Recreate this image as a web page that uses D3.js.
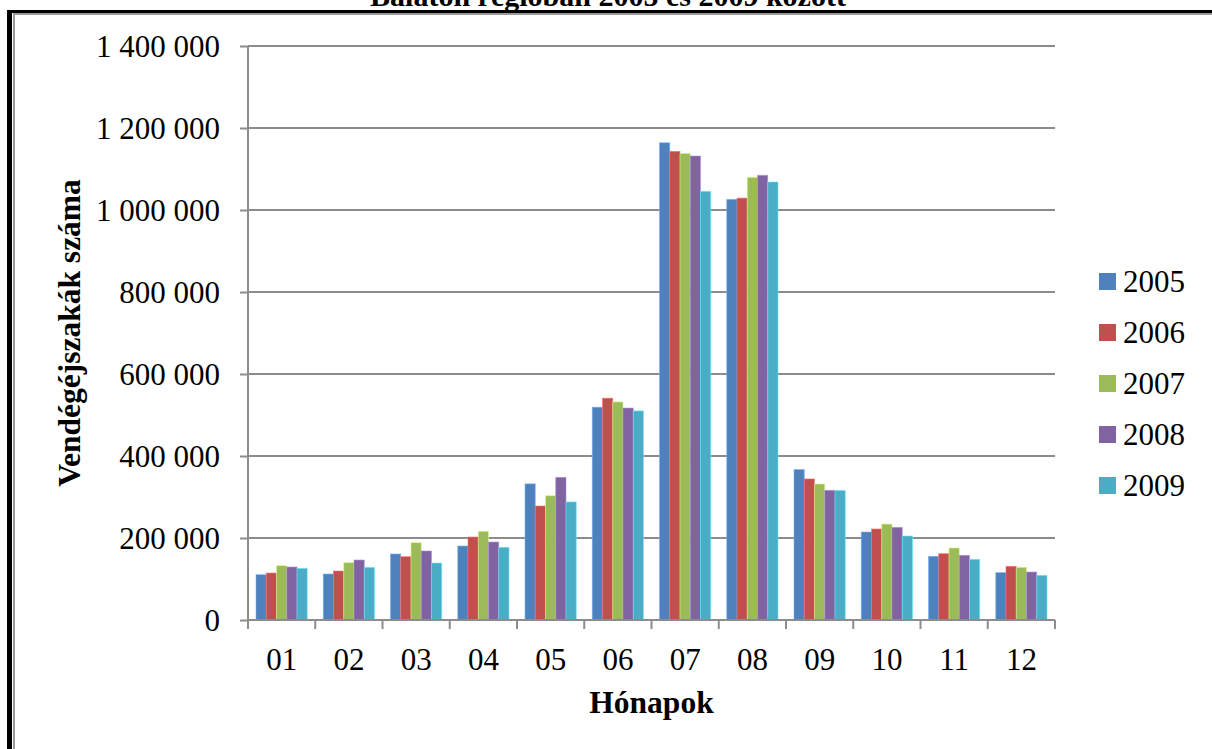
<!DOCTYPE html>
<html lang="hu">
<head>
<meta charset="utf-8">
<script src="https://cdn.jsdelivr.net/npm/d3@7"></script>
<style>
  html, body { margin: 0; padding: 0; background: #fff; }
  svg { display: block; }
  text { font-family: "Liberation Serif", "Times New Roman", serif; fill: #000; }
</style>
</head>
<body>
<svg id="chart" width="1212" height="749"></svg>
<script>
// Vendégéjszakák havonta, évenként
const months = ["01", "02", "03", "04", "05", "06", "07", "08", "09", "10", "11", "12"];
const years = ["2005", "2006", "2007", "2008", "2009"];
const v2005 = [110500, 112200, 161000, 180500, 332000, 519000, 1164000, 1026000, 367000, 214600, 155300, 115500];
const v2006 = [114600, 119500, 154400, 202400, 278000, 541000, 1143000, 1029000, 344000, 222000, 161800, 130900];
const v2007 = [132500, 139800, 188600, 216300, 303000, 532000, 1138000, 1079700, 331700, 234000, 175600, 128500];
const v2008 = [129300, 146300, 168300, 190200, 348000, 517000, 1131700, 1084600, 316300, 226000, 157700, 117000];
const v2009 = [126000, 128500, 139000, 177300, 288000, 510000, 1045600, 1068300, 316000, 204900, 148000, 109000];
const yTicks = [0, 200000, 400000, 600000, 800000, 1000000, 1200000, 1400000];
const colors = ["#4F81BD", "#C0504D", "#9BBB59", "#8064A2", "#4BACC6"];
const titleText = "Balaton régióban 2005 és 2009 között";
const yTitle = "Vendégéjszakák száma";
const xTitle = "Hónapok";

const seriesValues = [v2005, v2006, v2007, v2008, v2009];
const series = years.map((y, i) => ({ year: y, color: colors[i], values: seriesValues[i] }));

const svg = d3.select("#chart");
const plot = { left: 248, right: 1055, top: 46, bottom: 620 };

// Hungarian number format: space as thousands separator
const huLocale = d3.formatLocale({ decimal: ",", thousands: " ", grouping: [3], currency: ["", " Ft"] });
const fmt = huLocale.format(",d");

// Frame (double border: black outer, grey inner)
const frame = svg.append("g");
frame.append("rect").attr("x", 7).attr("y", 10).attr("width", 5).attr("height", 749).attr("fill", "#000");
frame.append("rect").attr("x", 7).attr("y", 10).attr("width", 1212).attr("height", 3).attr("fill", "#000");
frame.append("rect").attr("x", 13).attr("y", 13).attr("width", 2).attr("height", 749).attr("fill", "#9a9a9a");
frame.append("rect").attr("x", 13).attr("y", 13).attr("width", 1212).attr("height", 2).attr("fill", "#9a9a9a");

// Title (partly above the top edge)
svg.append("text")
  .attr("x", 608).attr("y", 6)
  .attr("text-anchor", "middle")
  .style("font-size", "30px").style("font-weight", "bold")
  .text(titleText);

// Scales
const x = d3.scaleBand().domain(months).range([plot.left, plot.right]).paddingInner(0).paddingOuter(0);
const xInner = d3.scaleBand().domain(years).range([8, x.bandwidth() - 8]).padding(0);
const y = d3.scaleLinear().domain([0, 1400000]).range([plot.bottom, plot.top]);

const gridColor = "#8c8c8c";

// Horizontal gridlines
svg.append("g")
  .selectAll("line")
  .data(yTicks.filter(d => d > 0))
  .join("line")
  .attr("x1", plot.left).attr("x2", plot.right)
  .attr("y1", d => y(d)).attr("y2", d => y(d))
  .attr("stroke", gridColor).attr("stroke-width", 2);

// Bars
const groups = svg.append("g")
  .selectAll("g")
  .data(series)
  .join("g")
  .attr("fill", d => d.color);

groups.selectAll("rect")
  .data(s => s.values.map((v, i) => ({ month: months[i], value: v, year: s.year, color: s.color })))
  .join("rect")
  .attr("x", d => x(d.month) + xInner(d.year))
  .attr("y", d => y(d.value))
  .attr("width", xInner.bandwidth())
  .attr("height", d => y(0) - y(d.value))
  .attr("stroke", d => d3.color(d.color).brighter(0.9))
  .attr("stroke-width", 0.8)
  .attr("stroke-opacity", 0.7);

// Y axis
const yAxis = svg.append("g")
  .attr("transform", `translate(${plot.left},0)`)
  .call(d3.axisLeft(y).tickValues(yTicks).tickFormat(fmt).tickSize(8).tickPadding(20));
yAxis.select(".domain").attr("stroke", gridColor).attr("stroke-width", 2).attr("d", `M0,${plot.top}V${plot.bottom}`);
yAxis.selectAll(".tick line").attr("stroke", gridColor).attr("stroke-width", 2);
yAxis.selectAll(".tick text")
  .style("font-size", "31px")
  .attr("font-family", null)
  .attr("dy", "0.34em");

// X axis: baseline, category boundary ticks, labels at band centres
const xAxis = svg.append("g")
  .attr("transform", `translate(0,${plot.bottom})`)
  .call(d3.axisBottom(x).tickSize(0).tickPadding(0));
xAxis.select(".domain").attr("stroke", gridColor).attr("stroke-width", 2).attr("d", `M${plot.left},0H${plot.right}`);
xAxis.selectAll(".tick text")
  .style("font-size", "31px")
  .attr("font-family", null)
  .attr("dy", null)
  .attr("y", 50);

const boundaries = months.map(m => x(m)).concat([plot.right]);
xAxis.append("g")
  .selectAll("line")
  .data(boundaries)
  .join("line")
  .attr("x1", d => d).attr("x2", d => d)
  .attr("y1", 0).attr("y2", 9)
  .attr("stroke", gridColor).attr("stroke-width", 2);

// Axis titles
svg.append("text")
  .attr("x", (plot.left + plot.right) / 2).attr("y", 713)
  .attr("text-anchor", "middle")
  .style("font-size", "31.5px").style("font-weight", "bold")
  .text(xTitle);

svg.append("text")
  .attr("transform", `translate(80,${(plot.top + plot.bottom) / 2}) rotate(-90)`)
  .attr("text-anchor", "middle")
  .style("font-size", "31.5px").style("font-weight", "bold")
  .text(yTitle);

// Legend
const legend = svg.append("g")
  .selectAll("g")
  .data(series)
  .join("g")
  .attr("transform", (d, i) => `translate(1099,${273 + i * 51})`);
legend.append("rect").attr("width", 17).attr("height", 17).attr("fill", d => d.color);
legend.append("text")
  .attr("x", 24).attr("y", 19)
  .style("font-size", "31px")
  .text(d => d.year);
</script>
</body>
</html>
